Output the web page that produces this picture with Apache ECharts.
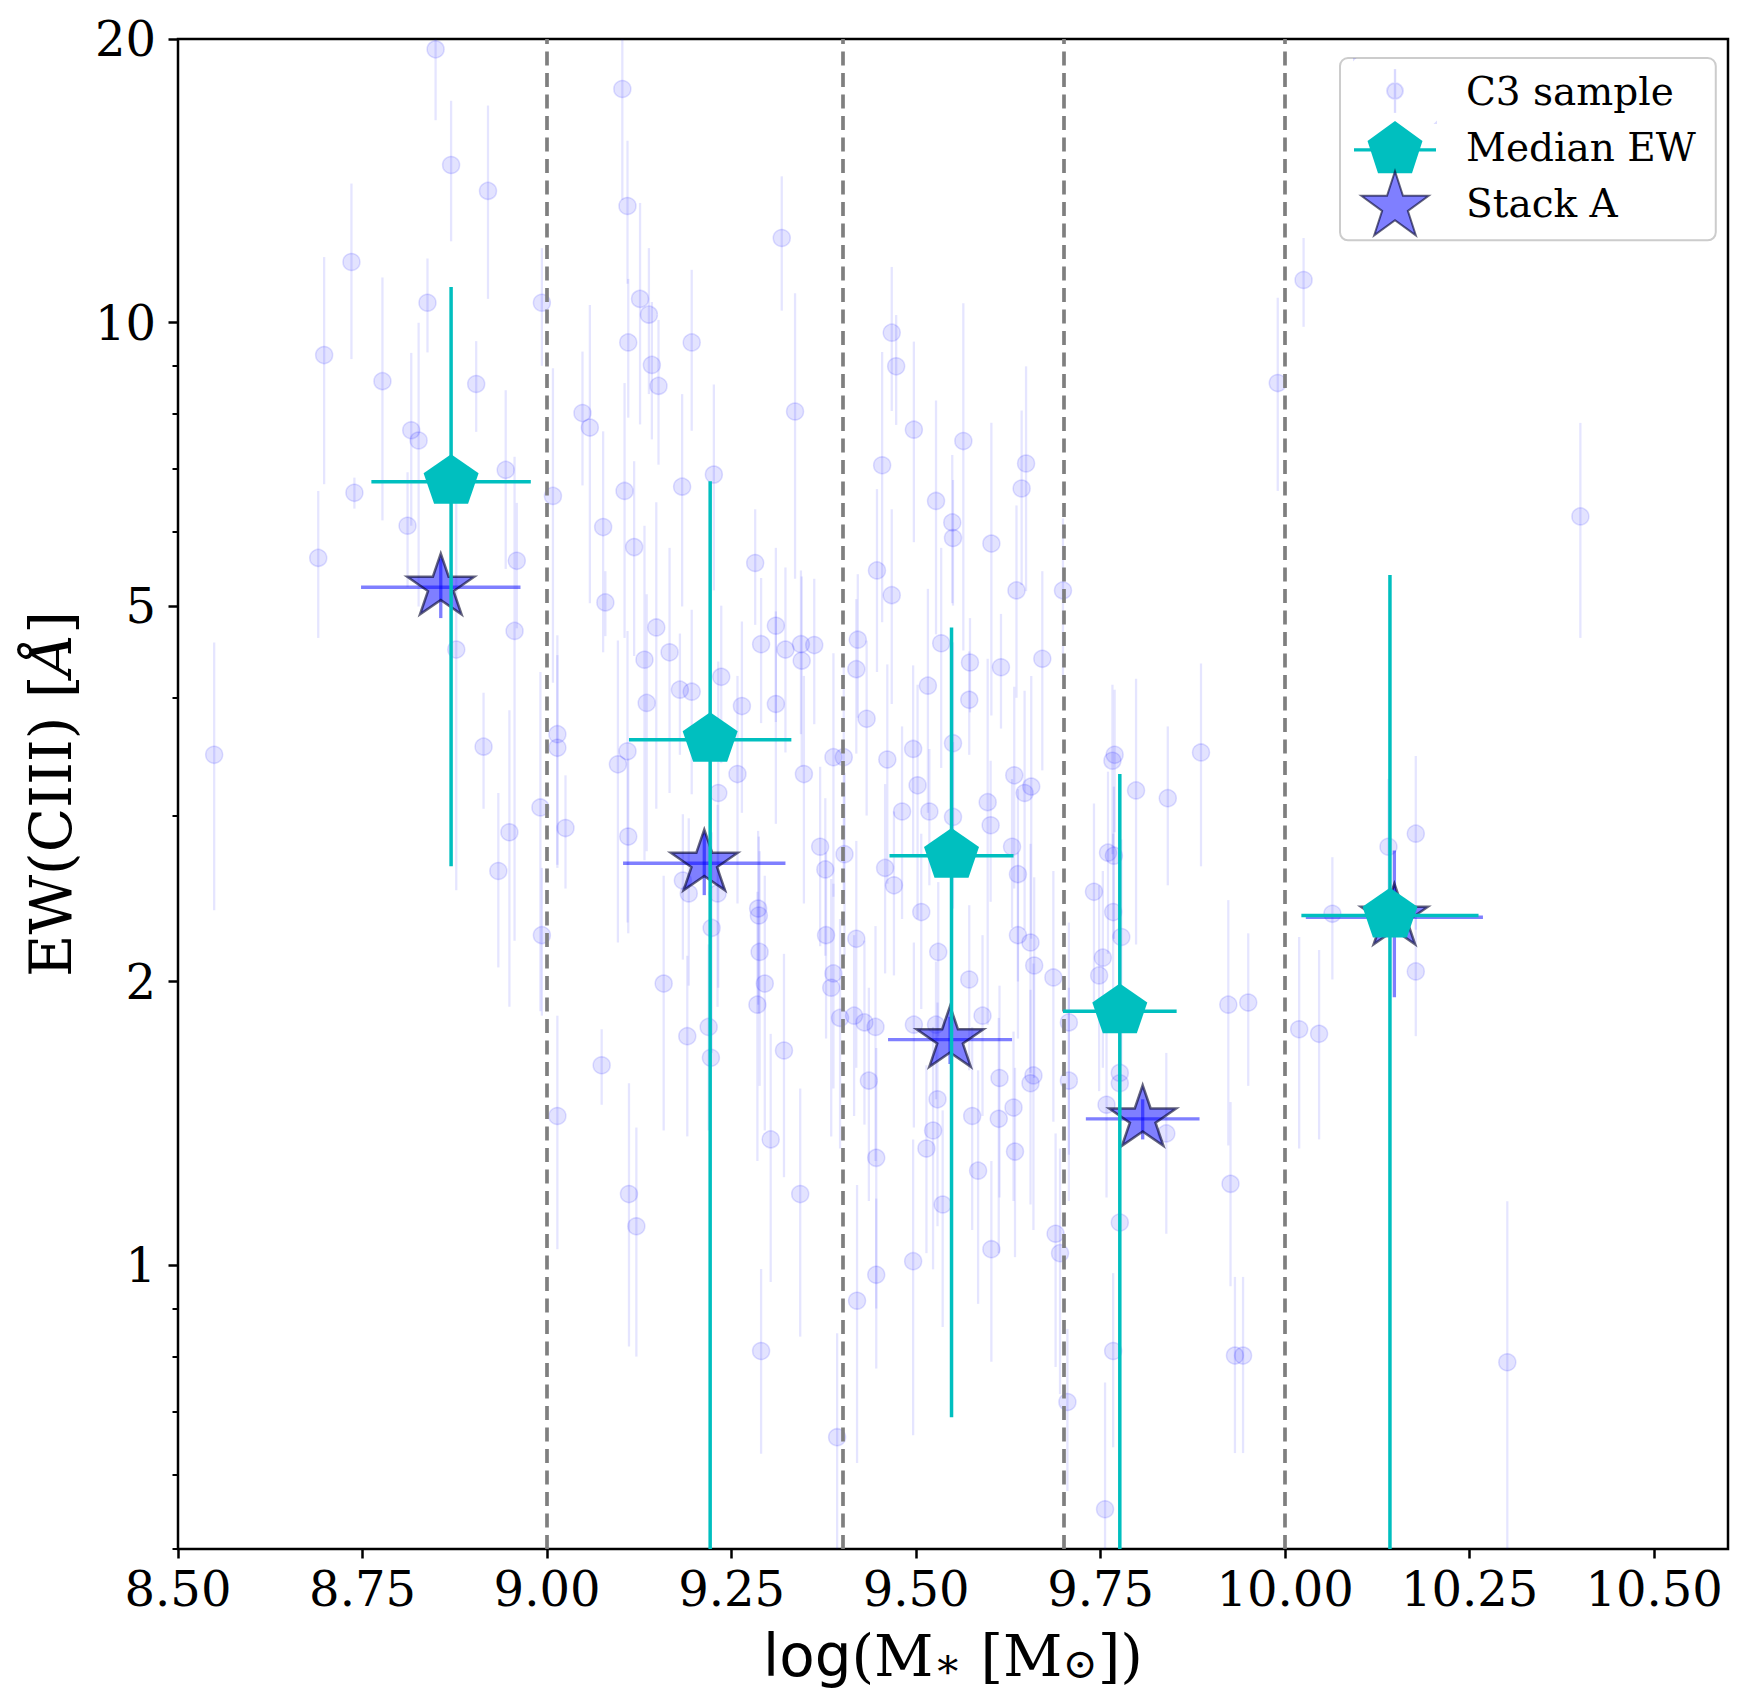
<!DOCTYPE html>
<html>
<head>
<meta charset="utf-8">
<title>EW(CIII) vs stellar mass</title>
<script src="https://cdn.jsdelivr.net/npm/echarts@6/dist/echarts.min.js"></script>
<style>
  html, body { margin: 0; padding: 0; background: #fff; }
  #chart { width: 1747px; height: 1708px; }
</style>
</head>
<body>
<div id="chart"></div>
<script>
// C3 sample: log stellar mass, EW(CIII) and its error
var c3Mass = [
  8.849, 8.870, 8.920, 8.735, 8.698, 8.838, 8.993, 8.777, 8.904, 8.816,
  8.826, 8.944, 8.739, 8.811, 8.690, 8.959, 8.956, 8.877, 8.549, 8.914,
  9.008, 9.014, 9.014, 9.102, 9.109, 9.126, 9.138, 9.110, 9.196, 9.142,
  9.151, 9.048, 9.058, 9.226, 9.105, 9.183, 9.076, 9.118, 9.079, 9.282,
  9.148, 9.310, 9.290, 9.132, 9.166, 9.236, 9.180, 9.196, 9.135, 9.264,
  9.310, 9.109, 9.096, 9.258, 9.232, 9.318,
  9.336, 9.467, 9.473, 9.497, 9.564, 9.454, 9.649, 9.643, 9.527, 9.549,
  9.550, 9.602, 9.447, 9.467, 9.636, 9.699, 9.990, 10.025, 9.421, 9.419,
  9.433, 9.534, 9.573, 9.615, 9.671, 9.516, 9.572, 9.496, 9.550, 9.461,
  9.502, 9.402, 9.388, 9.633, 9.656, 9.647, 9.769, 9.766, 9.798, 9.886,
  9.841, 9.597, 9.323, 9.344, 9.362, 9.345, 9.348,
  8.991, 8.949, 8.934, 9.025, 8.993, 9.110, 9.184, 9.192, 9.231, 9.286,
  9.287, 9.223, 9.288, 9.295, 9.158, 9.285, 9.219, 9.190, 9.222, 9.074,
  9.321, 9.014, 9.303, 9.111, 9.121, 9.290,
  9.370, 9.377, 9.403, 9.481, 9.518, 9.550, 9.601, 9.458, 9.470, 9.630,
  9.638, 9.507, 9.378, 9.419, 9.638, 9.655, 9.530, 9.660, 9.388, 9.385,
  9.572, 9.686, 9.397, 9.416, 9.430, 9.445, 9.497, 9.527, 9.590, 9.707,
  9.436, 9.613, 9.659, 9.655, 9.707, 9.529, 9.632, 9.576, 9.612, 9.523,
  9.514, 9.446, 9.634, 9.584, 9.343, 9.536, 9.776, 9.776, 9.758, 9.839,
  9.760, 9.768, 9.741, 9.767, 9.778, 9.753, 9.748, 9.923, 9.950, 10.019,
  10.046, 10.064, 9.926, 9.776, 9.689, 9.695, 9.602, 9.496, 9.446, 9.420,
  9.767, 9.932, 9.943, 9.705, 9.393, 9.756,
  10.400, 10.140, 10.177, 10.177, 10.301
];
var c3EW = [
  19.5, 14.7, 13.8, 11.6, 9.24, 10.5, 10.5, 8.67, 8.61, 7.69,
  7.50, 6.98, 6.60, 6.09, 5.63, 5.59, 4.71, 4.50, 3.48, 3.55,
  6.55, 3.66, 3.54, 17.7, 13.3, 10.6, 10.2, 9.53, 9.53, 9.02,
  8.57, 8.02, 7.74, 6.90, 6.63, 6.70, 6.07, 5.78, 5.05, 5.56,
  4.75, 4.77, 4.56, 4.39, 4.47, 4.21, 4.08, 4.06, 3.95, 3.92,
  3.94, 3.51, 3.40, 3.32, 3.17, 12.3,
  8.05, 9.76, 8.99, 7.70, 7.49, 7.06, 7.09, 6.67, 6.47, 6.14,
  5.91, 5.83, 5.46, 5.14, 5.20, 5.20, 8.63, 11.1, 4.61, 4.29,
  3.80, 4.57, 4.36, 4.31, 4.40, 4.12, 3.98, 3.53, 3.58, 3.44,
  3.23, 3.46, 3.46, 3.31, 3.22, 3.17, 3.48, 3.43, 3.19, 3.50,
  3.13, 3.10, 4.50, 4.56, 4.55, 4.38, 3.32,
  3.06, 2.88, 2.62, 2.91, 2.24, 2.85, 2.56, 2.48, 2.48, 2.39,
  2.35, 2.28, 2.15, 1.99, 1.99, 1.89, 1.79, 1.75, 1.66, 1.63,
  1.69, 1.44, 1.36, 1.19, 1.10, 0.811,
  2.78, 2.63, 2.73, 3.03, 3.03, 2.99, 2.93, 2.64, 2.53, 2.78,
  2.60, 2.37, 2.24, 2.22, 2.24, 2.20, 2.15, 2.08, 2.04, 1.97,
  2.01, 2.02, 1.83, 1.84, 1.81, 1.79, 1.80, 1.80, 1.84, 1.81,
  1.57, 1.58, 1.59, 1.56, 1.57, 1.50, 1.47, 1.44, 1.43, 1.39,
  1.33, 1.30, 1.32, 1.26, 1.19, 1.16, 1.60, 1.56, 1.48, 1.38,
  2.74, 2.72, 2.49, 2.37, 2.23, 2.12, 2.03, 1.89, 1.90, 1.78,
  1.76, 2.36, 1.22, 1.11, 1.08, 1.03, 1.04, 1.01, 0.977, 0.917,
  0.811, 0.802, 0.802, 0.716, 0.657, 0.551,
  6.23, 2.78, 2.87, 2.05, 0.789
];
var c3Err = [
  3.1, 2.5, 3.2, 2.45, 2.5, 1.2, 1.5, 2.5, 0.95, 1.6,
  2.5, 1.5, 0.25, 0.85, 1.0, 0.85, 2.5, 2.0, 1.1, 0.5,
  2.4, 1.0, 0.9, 4.2, 2.3, 2.8, 1.8, 1.6, 1.85, 1.5,
  1.5, 1.3, 2.7, 1.7, 2.0, 1.7, 1.6, 1.35, 0.4, 0.78,
  1.7, 1.0, 0.8, 1.7, 1.3, 0.8, 0.6, 0.9, 1.2, 0.9,
  1.0, 1.2, 1.2, 0.9, 1.2, 2.0,
  2.7, 1.7, 1.2, 1.85, 3.0, 2.25, 1.9, 1.4, 1.8, 1.1,
  0.9, 2.0, 1.2, 1.2, 1.2, 1.0, 2.0, 1.2, 0.8, 0.8,
  0.8, 1.2, 0.5, 0.6, 1.05, 1.1, 0.5, 0.8, 1.0, 0.9,
  0.9, 1.0, 1.0, 0.8, 1.0, 0.9, 0.6, 0.7, 1.0, 0.85,
  0.6, 1.3, 1.0, 0.9, 0.8, 1.0, 0.9,
  1.2, 1.0, 0.55, 0.4, 0.4, 0.6, 0.45, 0.5, 0.6, 0.5,
  0.5, 0.6, 0.6, 0.6, 0.6, 0.6, 0.4, 0.38, 0.4, 0.15,
  0.45, 0.4, 0.4, 0.37, 0.3, 0.18,
  0.6, 0.5, 0.6, 0.7, 0.5, 0.6, 0.5, 0.6, 0.5, 0.5,
  0.6, 0.5, 0.5, 0.6, 0.5, 0.6, 0.4, 0.5, 0.5, 0.6,
  0.4, 0.6, 0.5, 0.4, 0.4, 0.5, 0.4, 0.3, 0.4, 0.5,
  0.4, 0.4, 0.5, 0.4, 0.4, 0.4, 0.3, 0.35, 0.4, 0.4,
  0.3, 0.4, 0.3, 0.35, 0.35, 0.3, 0.3, 0.4, 0.3, 0.3,
  0.6, 0.5, 0.6, 0.5, 0.6, 0.5, 0.5, 0.55, 0.35, 0.45,
  0.4, 0.35, 0.27, 0.2, 0.3, 0.3, 0.25, 0.35, 0.2, 0.3,
  0.17, 0.17, 0.17, 0.14, 0.19, 0.2,
  1.6, 0.5, 0.6, 0.3, 0.38
];

// median EW per mass bin
var medMass = [8.870, 9.221, 9.548, 9.776, 10.142];
var medEW = [6.78, 3.61, 2.72, 1.86, 2.35];
var medMassErr = [0.108, 0.110, 0.084, 0.077, 0.120];
var medEWErr = [4.13, 3.18, 2.03, 1.46, 3.05];

// stack A per mass bin
var stackMass = [8.856, 9.213, 9.546, 9.807, 10.148];
var stackEW = [5.24, 2.67, 1.735, 1.43, 2.34];
var stackMassErr = [0.108, 0.110, 0.084, 0.077, 0.120];
var stackEWErr = [0.38, 0.2, 0.1, 0.07, 0.415];

// bin edges (dashed lines) and axis ticks
var binEdges = [9.0, 9.4, 9.7, 10.0];
var xTicks = [8.5, 8.75, 9.0, 9.25, 9.5, 9.75, 10.0, 10.25, 10.5];
var yTicks = [1, 2, 5, 10, 20];
var yMinorTicks = [0.5, 0.6, 0.7, 0.8, 0.9, 3, 4, 6, 7, 8, 9];

var X_MIN = 8.5, X_MAX = 10.6;
var Y_MIN = 0.5, Y_MAX = 20;

var SERIF = 'DejaVu Serif';
var CYAN = '#00bfbf';

// regular polygon / star outline as svg path, centred on cx, cy
function polyPoints(n, r, inner, cx, cy) {
  var pts = [];
  var k = inner ? 2 * n : n;
  for (var i = 0; i < k; i++) {
    var a = -Math.PI / 2 + i * Math.PI * 2 / k;
    var rr = (inner && i % 2 === 1) ? r * inner : r;
    pts.push((cx + rr * Math.cos(a)).toFixed(2) + ' ' + (cy + rr * Math.sin(a)).toFixed(2));
  }
  return 'M' + pts.join(' L') + ' Z';
}

var pentagonSym = 'path://' + polyPoints(5, 100, 0, 0, 0);
var starSym = 'path://' + polyPoints(5, 100, 0.381966, 0, 0);

// legend icons (82 x 64 frame)
var c3Icon = 'path://M33 32 A8 8 0 1 1 49 32 A8 8 0 1 1 33 32 Z M40.8 11 L41.2 11 L41.2 53 L40.8 53 Z' +
  ' M0 0 L0.1 0 L0 0.1 Z M82 64 L81.9 64 L82 63.9 Z';
var medIcon = 'path://' + polyPoints(5, 28.9, 0, 41, 28.9) + ' M0 27.2 L82 27.2 L82 30.6 L0 30.6 Z';
var starIcon = 'path://' + polyPoints(5, 35, 0.381966, 41, 35);

function clampY(v) {
  return Math.min(Math.max(v, Y_MIN), Y_MAX);
}

// vertical error bars of the C3 sample
function renderC3Err(params, api) {
  var x = api.value(0), y = api.value(1), e = api.value(2);
  var p1 = api.coord([x, clampY(y - e)]);
  var p2 = api.coord([x, clampY(y + e)]);
  return {
    type: 'line',
    shape: { x1: p1[0], y1: p1[1], x2: p2[0], y2: p2[1] },
    style: { stroke: 'rgba(0,0,255,0.1)', lineWidth: 2.3 }
  };
}

// x and y error bars for the binned points
function makeErrRenderer(color, width) {
  return function (params, api) {
    var x = api.value(0), y = api.value(1), xe = api.value(2), ye = api.value(3);
    var lo = y - ye > 0 ? clampY(y - ye) : Y_MIN;
    var v1 = api.coord([x, lo]);
    var v2 = api.coord([x, clampY(y + ye)]);
    var h1 = api.coord([x - xe, y]);
    var h2 = api.coord([x + xe, y]);
    var style = { stroke: color, lineWidth: width };
    return {
      type: 'group',
      children: [
        { type: 'line', shape: { x1: v1[0], y1: v1[1], x2: v2[0], y2: v2[1] }, style: style },
        { type: 'line', shape: { x1: h1[0], y1: h1[1], x2: h2[0], y2: h2[1] }, style: style }
      ]
    };
  };
}

var c3Points = c3Mass.map(function (m, i) { return [m, c3EW[i]]; });
var c3ErrData = c3Mass.map(function (m, i) { return [m, c3EW[i], c3Err[i]]; });
var medPoints = medMass.map(function (m, i) { return [m, medEW[i]]; });
var medErrData = medMass.map(function (m, i) { return [m, medEW[i], medMassErr[i], medEWErr[i]]; });
var stackPoints = stackMass.map(function (m, i) { return [m, stackEW[i]]; });
var stackErrData = stackMass.map(function (m, i) { return [m, stackEW[i], stackMassErr[i], stackEWErr[i]]; });

var chart = echarts.init(document.getElementById('chart'), null, { renderer: 'svg' });

var option = {
  backgroundColor: '#fff',
  animation: false,
  grid: {
    left: 178, top: 39, width: 1550, height: 1510,
    show: true, borderColor: '#000', borderWidth: 2.5, backgroundColor: 'transparent',
    containLabel: false, outerBoundsMode: 'none'
  },
  legend: {
    left: 1340, top: 58,
    orient: 'vertical',
    selectedMode: false,
    itemWidth: 82, itemHeight: 64, itemGap: -3,
    padding: [0, 20, 4, 13],
    backgroundColor: 'rgba(255,255,255,0.8)',
    borderColor: '#cccccc', borderWidth: 2, borderRadius: 8,
    textStyle: { fontFamily: SERIF, fontSize: 39, color: '#000', padding: [0, 0, 0, 25] },
    data: [
      { name: 'C3 sample', icon: c3Icon },
      { name: 'Median EW', icon: medIcon },
      { name: 'Stack A', icon: starIcon }
    ]
  },
  xAxis: {
    type: 'value',
    min: X_MIN, max: X_MAX,
    name: '{sans|log}(M{sub|∗} [M{sub|⊙}])',
    nameLocation: 'middle', nameGap: 78,
    nameTextStyle: {
      fontFamily: SERIF, fontSize: 58, color: '#000',
      rich: {
        sans: { fontFamily: 'DejaVu Sans', fontSize: 58, color: '#000' },
        sub: { fontFamily: SERIF, fontSize: 42, color: '#000', padding: [14, 0, 0, 0] }
      }
    },
    axisLine: { show: false },
    axisTick: { show: true, customValues: xTicks, length: 9.5, lineStyle: { color: '#000', width: 2.5 } },
    axisLabel: {
      customValues: xTicks, margin: 16,
      fontFamily: SERIF, fontSize: 48, color: '#000',
      formatter: function (v) { return v.toFixed(2); }
    },
    splitLine: { show: false }
  },
  yAxis: [{
    type: 'log', logBase: 10,
    min: Y_MIN, max: Y_MAX,
    position: 'left',
    name: 'EW(CIII) [{it|Å}]',
    nameLocation: 'middle', nameGap: 98, nameRotate: 90,
    nameTextStyle: {
      fontFamily: SERIF, fontSize: 58, color: '#000',
      rich: { it: { fontFamily: SERIF, fontStyle: 'italic', fontSize: 58, color: '#000' } }
    },
    axisLine: { show: false },
    axisTick: { show: true, customValues: yTicks, length: 9.5, lineStyle: { color: '#000', width: 2.5 } },
    axisLabel: {
      customValues: yTicks, margin: 22,
      fontFamily: SERIF, fontSize: 48, color: '#000',
      formatter: function (v) { return String(Math.round(v * 100) / 100); }
    },
    splitLine: { show: false }
  }, {
    // minor ticks of the log axis
    type: 'log', logBase: 10,
    min: Y_MIN, max: Y_MAX,
    position: 'left', offset: 0,
    axisLine: { show: false },
    axisTick: { show: true, customValues: yMinorTicks, length: 5.5, lineStyle: { color: '#000', width: 2 } },
    axisLabel: { show: false },
    splitLine: { show: false }
  }],
  series: [
    {
      name: 'c3-err', type: 'custom', z: 1,
      renderItem: renderC3Err,
      encode: { x: 0, y: 1 },
      data: c3ErrData,
      silent: true
    },
    {
      name: 'C3 sample', type: 'scatter', z: 2,
      symbol: 'circle', symbolSize: 17,
      itemStyle: { color: 'rgba(0,0,255,0.11)', borderColor: 'rgba(0,0,255,0.13)', borderWidth: 1.5, opacity: 1 },
      data: c3Points,
      silent: true
    },
    {
      name: 'bins', type: 'line', z: 3, data: [],
      markLine: {
        silent: true, symbol: 'none',
        label: { show: false },
        lineStyle: { color: '#7f7f7f', type: [14, 7.5], width: 3.7, opacity: 1 },
        data: binEdges.map(function (v) { return { xAxis: v }; })
      }
    },
    {
      name: 'stack-err', type: 'custom', z: 4,
      renderItem: makeErrRenderer('rgba(0,0,255,0.5)', 3.3),
      encode: { x: 0, y: 1 },
      data: stackErrData,
      silent: true
    },
    {
      name: 'Stack A', type: 'scatter', z: 5,
      symbol: starSym, symbolSize: [67, 63.7], symbolKeepAspect: true,
      symbolOffset: [0, -3.3],
      itemStyle: { color: 'rgba(0,0,255,0.5)', borderColor: 'rgba(0,0,40,0.6)', borderWidth: 2.5, opacity: 1 },
      data: stackPoints,
      silent: true
    },
    {
      name: 'median-err', type: 'custom', z: 6,
      renderItem: makeErrRenderer(CYAN, 3.5),
      encode: { x: 0, y: 1 },
      data: medErrData,
      silent: true
    },
    {
      name: 'Median EW', type: 'scatter', z: 7,
      symbol: pentagonSym, symbolSize: [55, 52.3], symbolKeepAspect: true,
      symbolOffset: [0, -2.8],
      itemStyle: { color: CYAN, opacity: 1 },
      data: medPoints,
      silent: true
    }
  ]
};

chart.setOption(option);
</script>
</body>
</html>
